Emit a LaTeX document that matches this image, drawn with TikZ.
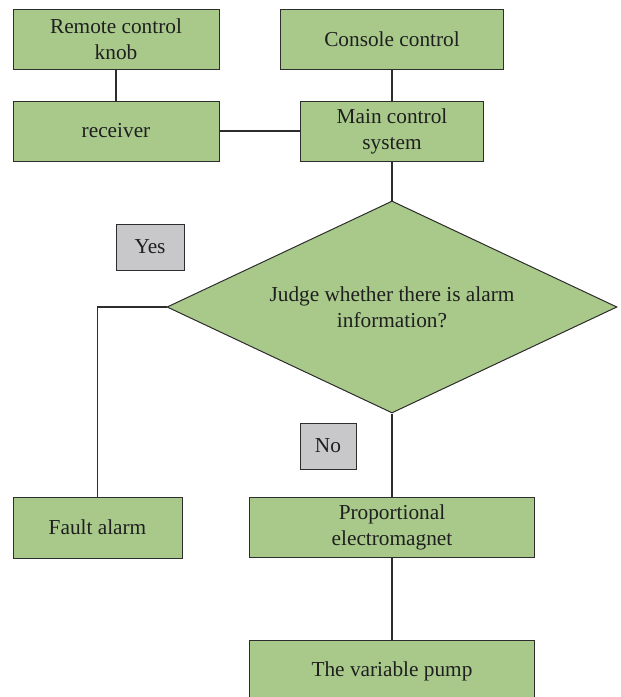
\documentclass[tikz,border=0pt]{standalone}
\usepackage{fontspec}
\setmainfont{Liberation Serif}
\usetikzlibrary{shapes.geometric}
\definecolor{boxgreen}{RGB}{169,201,139}
\definecolor{boxgray}{RGB}{200,200,202}
\definecolor{edge}{RGB}{45,45,45}
\begin{document}
\begin{tikzpicture}[x=1pt,y=-1pt,
  font=\fontsize{21.3}{26}\selectfont,
  gbox/.style={draw=edge, line width=1pt, fill=boxgreen, inner sep=0pt, align=center, text=black!88},
  ybox/.style={draw=edge, line width=1pt, fill=boxgray, inner sep=0pt, align=center, text=black!88},
  conn/.style={draw=edge, line width=1.3pt}]
\useasboundingbox (0,0) rectangle (621,697);
\node[gbox, minimum width=206pt, minimum height=60pt] (knob) at (116,39) {Remote control\\knob};
\node[gbox, minimum width=223pt, minimum height=60pt] (console) at (392,39) {Console control};
\node[gbox, minimum width=206pt, minimum height=60pt] (recv) at (116,131) {receiver};
\node[gbox, minimum width=183pt, minimum height=60pt] (main) at (392,131) {Main control\\system};
\node[ybox, minimum width=68pt, minimum height=46pt] (yes) at (150,247) {Yes};
\node[gbox, shape=diamond, aspect=2.12, minimum width=450pt, minimum height=212pt] (judge) at (392,307) {Judge whether there is alarm\\information?};
\node[ybox, minimum width=56pt, minimum height=46pt] (no) at (328,446) {No};
\node[gbox, minimum width=169pt, minimum height=61pt] (fault) at (97.5,527.5) {Fault alarm};
\node[gbox, minimum width=285pt, minimum height=60pt] (prop) at (392,527.5) {Proportional\\electromagnet};
\node[gbox, minimum width=285pt, minimum height=62pt] (pump) at (392,671) {The variable pump};
\draw[conn] (knob.south) -- (recv.north);
\draw[conn] (console.south) -- (main.north);
\draw[conn] (recv.east) -- (main.west);
\draw[conn] (main.south) -- (judge.north);
\draw[conn] (judge.west) -| (fault.north);
\draw[conn] (judge.south) -- (prop.north);
\draw[conn] (prop.south) -- (pump.north);
\end{tikzpicture}
\end{document}
